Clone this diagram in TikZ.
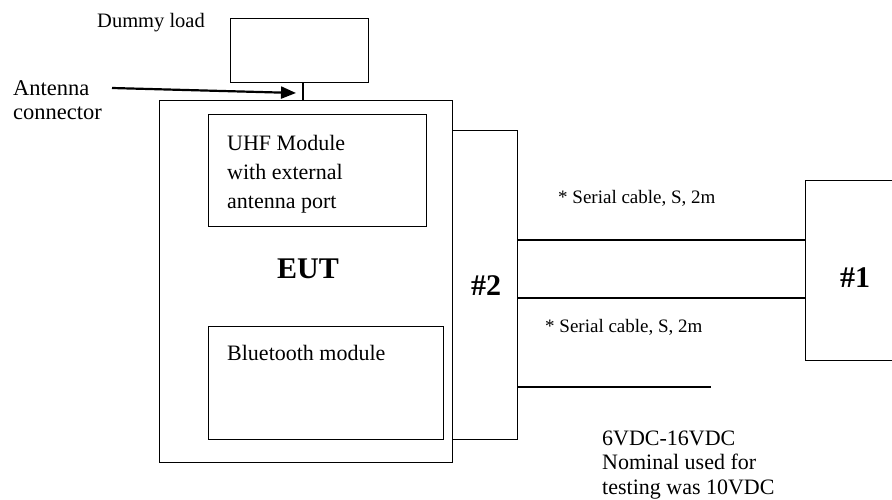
\documentclass[tikz,border=0pt]{standalone}
\usepackage{fontspec}
\setmainfont{Liberation Serif}
\usetikzlibrary{arrows.meta}
\begin{document}
\begin{tikzpicture}[x=1pt,y=-1pt,
  box/.style={draw, line width=1.4pt, rectangle, inner sep=0pt, anchor=north west},
  wire/.style={line width=1.4pt},
  big/.style={font=\fontsize{22}{29}\selectfont, inner sep=0pt},
  small/.style={font=\fontsize{19}{23}\selectfont, inner sep=0pt},
  bold/.style={font=\fontsize{30}{34}\selectfont\bfseries, inner sep=0pt}]
\clip (0,0) rectangle (892,500);
\fill[white] (0,0) rectangle (892,500);
% boxes
\node[box, minimum width=138pt, minimum height=64pt] (dummy) at (230,18) {};
\node[box, minimum width=293pt, minimum height=362pt] (eut) at (159,100) {};
\node[box, minimum width=218pt, minimum height=112pt] (uhf) at (208,114) {};
\node[box, minimum width=235pt, minimum height=113pt] (bt) at (208,326) {};
\node[box, minimum width=65pt, minimum height=309pt] (p2) at (452,130) {};
\node[box, minimum width=100pt, minimum height=180pt] (p1) at (805,180) {};
% texts
\node[small, font=\fontsize{20.5}{24}\selectfont, anchor=base west] (dl) at (97,27.5) {Dummy load};
\node[big, font=\fontsize{22.5}{24}\selectfont, anchor=base west, align=left] (ant) at (13,120) {Antenna\\connector};
\node[big, anchor=base west, align=left] (uhfl) at (227,208) {UHF Module\\with external\\antenna port};
\node[big, anchor=base west] (btl) at (227,360) {Bluetooth module};
\node[bold, anchor=base] (eutl) at (308,278) {EUT};
\node[bold, anchor=base] (p2l) at (486,295) {\#2};
\node[bold, anchor=base] (p1l) at (855,287) {\#1};
\node[small, anchor=base west] (s1) at (558,204) {* Serial cable, S, 2m};
\node[small, anchor=base west] (s2) at (545,332) {* Serial cable, S, 2m};
\node[big, font=\fontsize{22}{24.5}\selectfont, anchor=base west, align=left] (pw) at (602,494) {6VDC-16VDC\\Nominal used for\\testing was 10VDC};
% antenna connector
\coordinate (conn) at (303,100);
\coordinate (tip) at (296,93);
\coordinate (tail) at (112,88);
\draw[wire] (dummy.south west -| conn) -- (conn);
\draw[line width=2.2pt, -{Triangle[length=15pt,width=12pt]}] (tail) -- (tip);
% cables
\coordinate (ya) at (0,240);
\coordinate (yb) at (0,298);
\coordinate (pend) at (711,387);
\draw[wire] (p2.east |- ya) -- (p1.west |- ya);
\draw[wire] (p2.east |- yb) -- (p1.west |- yb);
\draw[wire] (p2.east |- pend) -- (pend);
\end{tikzpicture}
\end{document}
